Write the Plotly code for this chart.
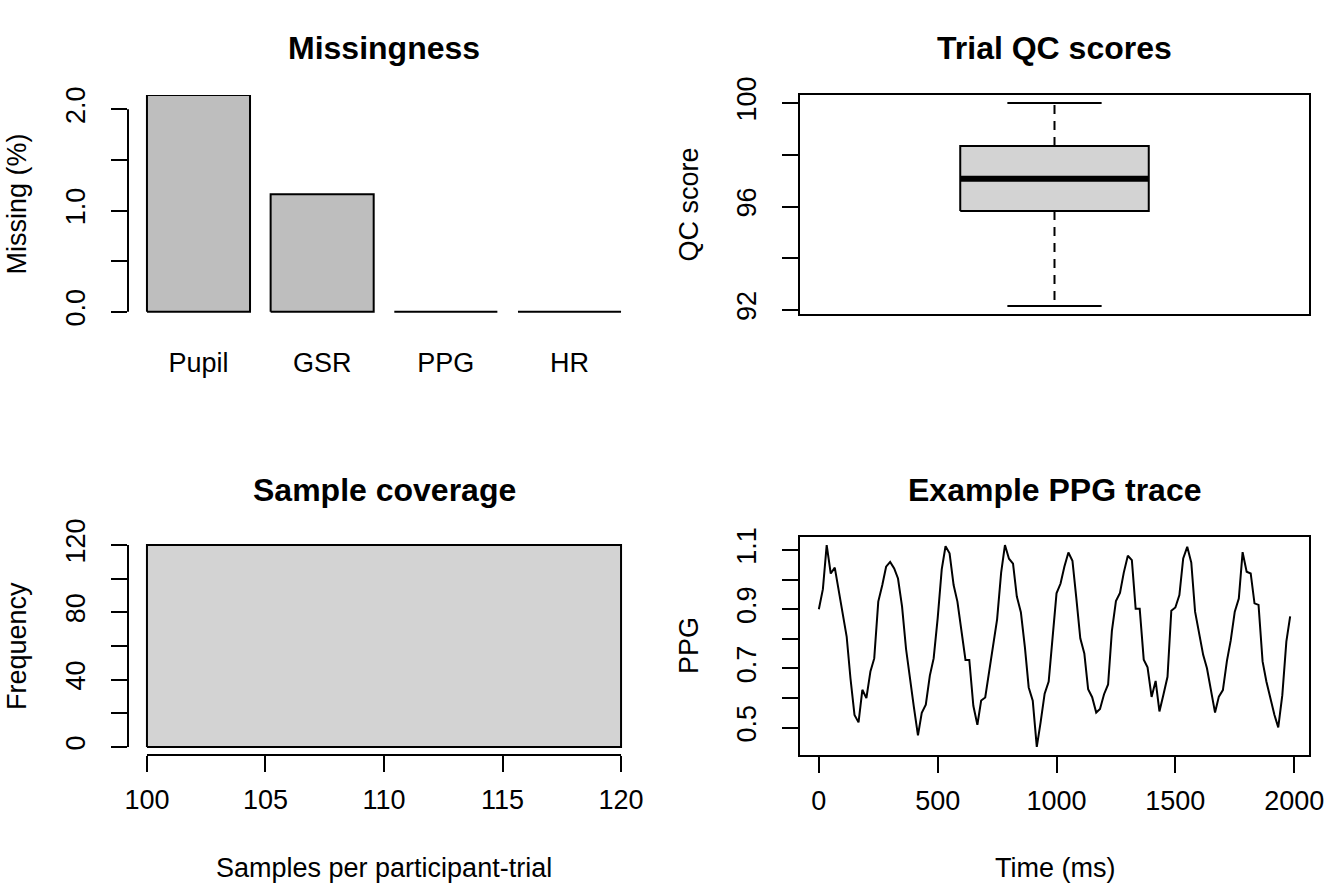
#%%
'''
QC overview for the physiological recordings, 2 x 2 panels
missingness per channel, trial QC scores, sample coverage, example PPG trace
'''

import plotly.graph_objects as go

#### values
channels = ['Pupil', 'GSR', 'PPG', 'HR']
missing_pct = [2.14, 1.16, 0.0, 0.0]

qc_whisker_low = 92.16
qc_q1 = 95.83
qc_median = 97.08
qc_q3 = 98.34
qc_whisker_high = 100.0

coverage_bin_edges = [100, 120]
coverage_counts = [120]

ppg_time_ms = [
    0, 17, 33, 50, 67, 83, 100, 117, 133, 150, 167, 183, 200, 217, 233,
    250, 267, 283, 300, 317, 333, 350, 367, 383, 400, 417, 433, 450, 467, 483,
    500, 517, 533, 550, 567, 583, 600, 617, 633, 650, 667, 683, 700, 717, 733,
    750, 767, 783, 800, 817, 833, 850, 867, 883, 900, 917, 933, 950, 967, 983,
    1000, 1017, 1033, 1050, 1067, 1083, 1100, 1117, 1133, 1150, 1167, 1183,
    1200, 1217, 1233, 1250, 1267, 1283, 1300, 1317, 1333, 1350, 1367, 1383,
    1400, 1417, 1433, 1450, 1467, 1483, 1500, 1517, 1533, 1550, 1567, 1583,
    1600, 1617, 1633, 1650, 1667, 1683, 1700, 1717, 1733, 1750, 1767, 1783,
    1800, 1817, 1833, 1850, 1867, 1883, 1900, 1917, 1933, 1950, 1967, 1983,
]
ppg_value = [
    0.900, 0.968, 1.117, 1.021, 1.041, 0.965, 0.890, 0.808, 0.667, 0.543,
    0.518, 0.628, 0.600, 0.690, 0.734, 0.926, 0.982, 1.044, 1.060, 1.038,
    1.004, 0.910, 0.765, 0.662, 0.569, 0.474, 0.550, 0.578, 0.676, 0.734,
    0.870, 1.035, 1.113, 1.089, 0.982, 0.926, 0.833, 0.729, 0.729, 0.574,
    0.510, 0.592, 0.602, 0.692, 0.766, 0.866, 1.024, 1.117, 1.071, 1.054,
    0.943, 0.890, 0.771, 0.636, 0.591, 0.435, 0.518, 0.615, 0.656, 0.810,
    0.954, 0.987, 1.044, 1.092, 1.064, 0.940, 0.802, 0.751, 0.630, 0.603,
    0.551, 0.563, 0.613, 0.646, 0.827, 0.928, 0.955, 1.024, 1.081, 1.066,
    0.902, 0.902, 0.730, 0.704, 0.604, 0.658, 0.555, 0.612, 0.672, 0.895,
    0.906, 0.948, 1.072, 1.111, 1.058, 0.892, 0.818, 0.746, 0.701, 0.628,
    0.551, 0.605, 0.627, 0.726, 0.795, 0.892, 0.936, 1.093, 1.027, 1.021,
    0.920, 0.915, 0.724, 0.656, 0.597, 0.543, 0.501, 0.610, 0.791, 0.876,
]

#### page geometry (pixels)
W, H = 1344, 883
COL_X = [(128, 640), (800, 1309)]
ROW_Y = [(95, 314), (537, 755)]
FONT = 'Liberation Sans, Arial, sans-serif'
TICK_SIZE = 27
TITLE_SIZE = 32


def dom_x(col):
    a, b = COL_X[col]
    return [a / W, b / W]


def dom_y(row):
    a, b = ROW_Y[row]
    return [1 - b / H, 1 - a / H]


def r_range(lo, hi):
    # base R style 4% padding
    d = (hi - lo) * 0.04
    return [lo - d, hi + d]


def rect_path(lefts, rights, heights):
    xs, ys = [], []
    for l, r, h in zip(lefts, rights, heights):
        xs += [l, l, r, r, l, None]
        ys += [0, h, h, 0, 0, None]
    return xs, ys


def base_axis(**kw):
    ax = dict(showgrid=False, zeroline=False, showline=False, automargin=False,
              ticks='outside', ticklen=16, tickwidth=2, tickcolor='black',
              tickfont=dict(family=FONT, size=TICK_SIZE, color='black'),
              ticklabelstandoff=5)
    ax.update(kw)
    return ax


def y_axis(**kw):
    # R draws y tick labels parallel to the axis
    return base_axis(tickangle=-90, ticklabelstandoff=15, **kw)


def build_figure():
    fig = go.Figure()
    line = dict(color='black', width=2)

    #### missingness bars
    bar_w, space = 1.0, 0.2
    lefts = [space + i * (bar_w + space) for i in range(len(channels))]
    rights = [l + bar_w for l in lefts]
    centers = [l + bar_w / 2 for l in lefts]
    xs, ys = rect_path(lefts, rights, missing_pct)
    fig.add_trace(go.Scatter(x=xs, y=ys, mode='lines', fill='toself', fillcolor='#BEBEBE',
                             line=line, xaxis='x', yaxis='y', hoverinfo='skip'))

    #### QC boxplot
    fig.add_trace(go.Scatter(x=[0.8, 0.8, 1.2, 1.2, 0.8], y=[qc_q1, qc_q3, qc_q3, qc_q1, qc_q1],
                             mode='lines', fill='toself', fillcolor='#D3D3D3', line=line,
                             xaxis='x2', yaxis='y2', hoverinfo='skip'))
    fig.add_trace(go.Scatter(x=[1, 1, None, 1, 1], y=[qc_q3, qc_whisker_high, None, qc_q1, qc_whisker_low],
                             mode='lines', line=dict(color='black', width=2, dash='9px,7px'),
                             xaxis='x2', yaxis='y2', hoverinfo='skip'))
    fig.add_trace(go.Scatter(x=[0.9, 1.1, None, 0.9, 1.1],
                             y=[qc_whisker_high, qc_whisker_high, None, qc_whisker_low, qc_whisker_low],
                             mode='lines', line=line, xaxis='x2', yaxis='y2', hoverinfo='skip'))
    fig.add_trace(go.Scatter(x=[0.8, 1.2], y=[qc_median, qc_median], mode='lines',
                             line=dict(color='black', width=6), xaxis='x2', yaxis='y2', hoverinfo='skip'))

    #### coverage histogram
    xs, ys = rect_path(coverage_bin_edges[:-1], coverage_bin_edges[1:], coverage_counts)
    fig.add_trace(go.Scatter(x=xs, y=ys, mode='lines', fill='toself', fillcolor='#D3D3D3',
                             line=line, xaxis='x3', yaxis='y3', hoverinfo='skip'))

    #### PPG trace
    fig.add_trace(go.Scatter(x=ppg_time_ms, y=ppg_value, mode='lines', line=line,
                             xaxis='x4', yaxis='y4', hoverinfo='skip'))

    ymax = max(missing_pct)
    frame = dict(showline=True, mirror=True, linewidth=2, linecolor='black')
    fig.update_layout(
        width=W, height=H, margin=dict(l=0, r=0, t=0, b=0, autoexpand=False),
        paper_bgcolor='white', plot_bgcolor='white', showlegend=False,
        font=dict(family=FONT, color='black'),
        xaxis=base_axis(domain=dom_x(0), anchor='y', range=r_range(lefts[0], rights[-1]),
                        tickvals=centers, ticktext=channels, ticks='', ticklabelstandoff=30),
        yaxis=y_axis(domain=dom_y(0), anchor='x', range=[-0.01 * ymax, ymax],
                     tickvals=[0, 0.5, 1, 1.5, 2], ticktext=['0.0', '', '1.0', '', '2.0']),
        xaxis2=base_axis(domain=dom_x(1), anchor='y2', range=r_range(0.5, 1.5),
                         ticks='', showticklabels=False, **frame),
        yaxis2=y_axis(domain=dom_y(0), anchor='x2', range=r_range(qc_whisker_low, qc_whisker_high),
                      tickvals=[92, 94, 96, 98, 100], ticktext=['92', '', '96', '', '100'], **frame),
        xaxis3=base_axis(domain=dom_x(0), anchor='y3', range=r_range(coverage_bin_edges[0], coverage_bin_edges[-1]),
                         tickvals=[100, 105, 110, 115, 120]),
        yaxis3=y_axis(domain=dom_y(1), anchor='x3', range=r_range(0, max(coverage_counts)),
                      tickvals=[0, 20, 40, 60, 80, 100, 120],
                      ticktext=['0', '', '40', '', '80', '', '120']),
        xaxis4=base_axis(domain=dom_x(1), anchor='y4', range=r_range(min(ppg_time_ms), max(ppg_time_ms)),
                         tickvals=[0, 500, 1000, 1500, 2000], **frame),
        yaxis4=y_axis(domain=dom_y(1), anchor='x4', range=r_range(min(ppg_value), max(ppg_value)),
                      tickvals=[0.5, 0.6, 0.7, 0.8, 0.9, 1.0, 1.1],
                      ticktext=['0.5', '', '0.7', '', '0.9', '', '1.1'], **frame),
    )

    #### R style axis lines that stop at the outer ticks
    ax_line = dict(color='black', width=2)
    fig.add_shape(type='line', xref='x domain', yref='y', x0=0, x1=0, y0=0, y1=2, line=ax_line)
    fig.add_shape(type='line', xref='x3 domain', yref='y3', x0=0, x1=0, y0=0, y1=120, line=ax_line)
    fig.add_shape(type='line', xref='x3', yref='y3 domain', x0=100, x1=120, y0=0, y1=0, line=ax_line)

    #### titles and axis labels
    def note(text, x, y, size=TICK_SIZE, angle=0):
        fig.add_annotation(text=text, x=x / W, y=1 - y / H, xref='paper', yref='paper',
                           showarrow=False, textangle=angle, xanchor='center', yanchor='middle',
                           font=dict(family=FONT, size=size, color='black'))

    titles = ['<b>Missingness</b>', '<b>Trial QC scores</b>', '<b>Sample coverage</b>', '<b>Example PPG trace</b>']
    ylabels = ['Missing (%)', 'QC score', 'Frequency', 'PPG']
    for k in range(4):
        row, col = divmod(k, 2)
        cx = sum(COL_X[col]) / 2
        cy = sum(ROW_Y[row]) / 2
        note(titles[k], cx, 48 + row * H / 2, size=TITLE_SIZE)
        note(ylabels[k], COL_X[col][0] - 111, cy, angle=-90)
    note('Samples per participant-trial', sum(COL_X[0]) / 2, 868)
    note('Time (ms)', sum(COL_X[1]) / 2, 868)
    return fig


################
# MAIN
################
if __name__ == '__main__':
    fig = build_figure()
    fig.write_html('out.html', config={'displayModeBar': False},
                   post_script="document.body.style.margin='0';")
